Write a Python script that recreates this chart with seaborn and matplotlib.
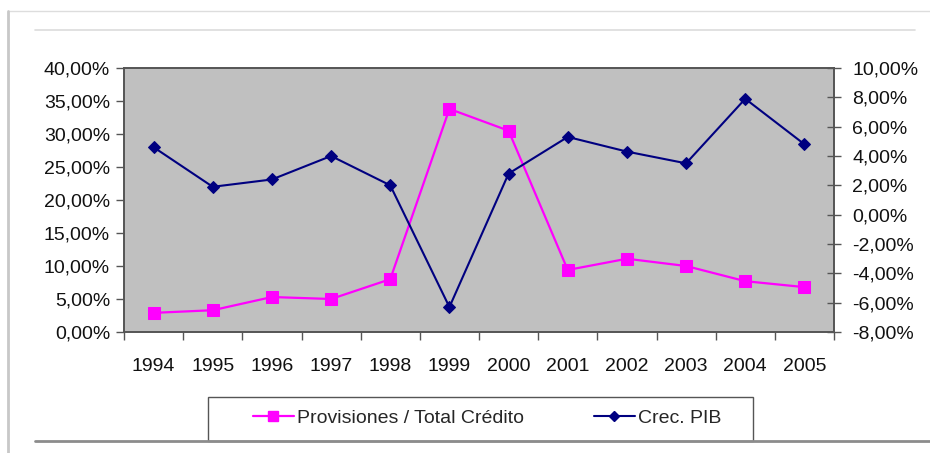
"""Provisiones / Total Crédito vs Crec. PIB, 1994-2005."""
import matplotlib

matplotlib.use("Agg")
import matplotlib.pyplot as plt
import numpy as np
import pandas as pd
import seaborn as sns
from matplotlib.lines import Line2D
from matplotlib.patches import Rectangle
from matplotlib.ticker import FuncFormatter

years = [1994, 1995, 1996, 1997, 1998, 1999, 2000, 2001, 2002, 2003, 2004, 2005]
provisiones = [2.9, 3.3, 5.3, 5.0, 8.0, 33.8, 30.5, 9.4, 11.1, 10.0, 7.7, 6.8]
crec_pib = [4.6, 1.9, 2.4, 4.0, 2.0, -6.3, 2.8, 5.3, 4.3, 3.5, 7.9, 4.8]

PINK = "#FF00FF"
NAVY = "#000080"
FS = 14

sns.set_theme(style="white")
plt.rcParams["font.family"] = ["Liberation Sans", "DejaVu Sans"]

df = pd.DataFrame({"year": years, "prov": provisiones, "pib": crec_pib})

fig = plt.figure(figsize=(9.3, 4.53), dpi=100)
fig.patch.set_facecolor("white")
ax = fig.add_axes([124 / 930, 1 - 332 / 453, 710 / 930, 264 / 453])
ax2 = ax.twinx()

sns.lineplot(data=df, x="year", y="prov", ax=ax, color=PINK, marker="s",
             markersize=8.5, markeredgecolor=PINK, linewidth=1.6)
sns.lineplot(data=df, x="year", y="pib", ax=ax2, color=NAVY, marker="D",
             markersize=6, markeredgecolor=NAVY, linewidth=1.5)

ax.set_facecolor("#C0C0C0")
ax.set_xlim(years[0] - 0.5, years[-1] + 0.5)
ax.set_ylim(0, 40)
ax.set_yticks(np.arange(0, 41, 5))
ax2.set_ylim(-8, 10)
ax2.set_yticks(np.arange(-8, 11, 2))

pct = FuncFormatter(lambda v, _: f"{v:.2f}%".replace(".", ","))
ax.yaxis.set_major_formatter(pct)
ax2.yaxis.set_major_formatter(pct)

# year labels at category centres, tick marks at category boundaries
ax.set_xticks(years)
ax.set_xticklabels([str(y) for y in years])
ax.set_xticks(np.arange(years[0] - 0.5, years[-1] + 1.0, 1.0), minor=True)
ax.tick_params(axis="x", which="major", length=0, pad=19, labelsize=FS, colors="#111111")
ax.tick_params(axis="x", which="minor", bottom=True, length=6, width=1, color="#555555", direction="out")
ax.tick_params(axis="y", which="major", left=True, length=6, width=1, color="#555555",
               direction="out", labelsize=FS, pad=4, labelcolor="#111111")
ax2.tick_params(axis="y", which="major", right=True, length=10, width=1, color="#555555",
                direction="inout", labelsize=FS, pad=8, labelcolor="#111111")

for a in (ax, ax2):
    a.set_xlabel("")
    a.set_ylabel("")
    for s in a.spines.values():
        s.set_color("#555555")
        s.set_linewidth(1.2)
ax.grid(False)
ax2.grid(False)

# legend in a plain box below the chart
fig.add_artist(Rectangle((208 / 930, 1 - 441 / 453), 545 / 930, 44 / 453,
                         transform=fig.transFigure, facecolor="white",
                         edgecolor="#555555", linewidth=1.0))
handles = [
    Line2D([], [], color=PINK, marker="s", markersize=7, linewidth=1.6),
    Line2D([], [], color=NAVY, marker="D", markersize=5, linewidth=1.5),
]
fig.legend(handles, ["Provisiones / Total Crédito", "Crec. PIB"], ncol=2,
           loc="center", bbox_to_anchor=(487 / 930, 1 - 418 / 453), frameon=False,
           fontsize=FS, handlelength=2.1, handletextpad=0.15, columnspacing=3.6)

# slide frame lines
fig.add_artist(Line2D([8 / 930, 1], [1 - 11 / 453, 1 - 11 / 453], color="#dddddd", linewidth=1))
fig.add_artist(Line2D([8 / 930, 8 / 930], [1 - 11 / 453, 0], color="#c8c8c8", linewidth=2))
fig.add_artist(Line2D([35 / 930, 915 / 930], [1 - 30 / 453, 1 - 30 / 453], color="#dcdcdc", linewidth=1.2))
fig.add_artist(Line2D([35 / 930, 1], [1 - 441 / 453, 1 - 441 / 453], color="#8c8c8c", linewidth=2))

fig.savefig("out.png", dpi=100)
